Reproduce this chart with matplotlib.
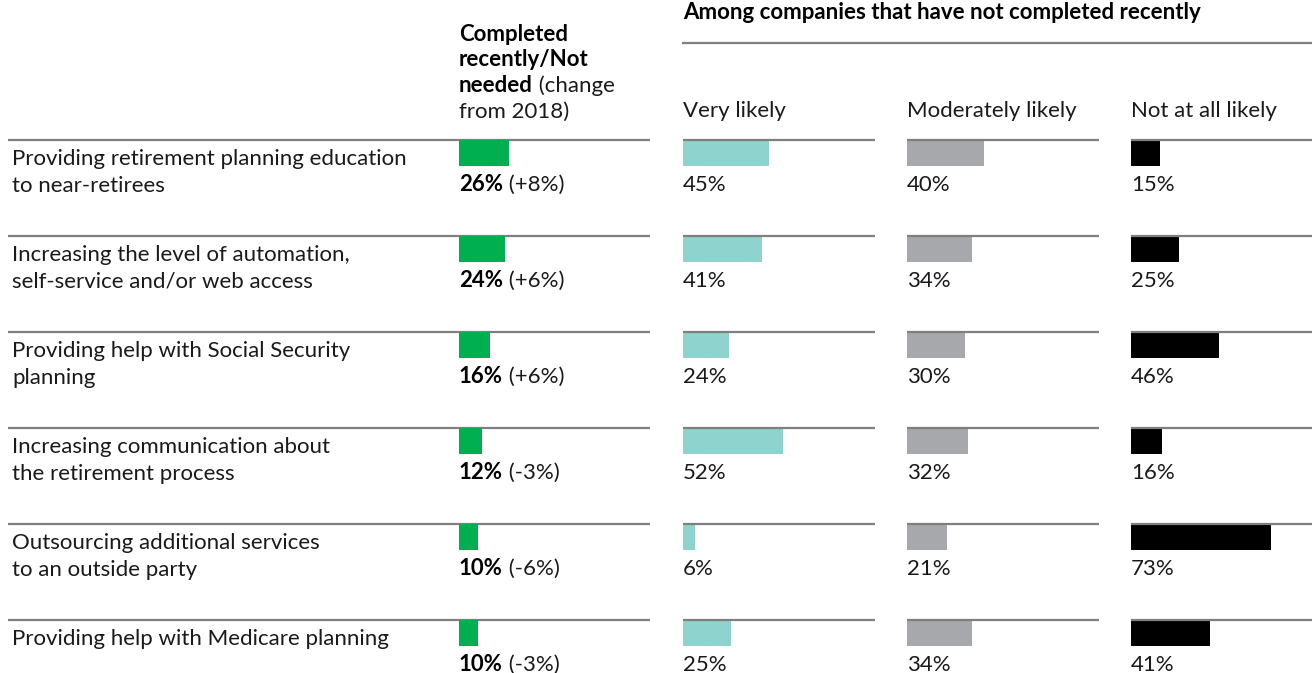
import matplotlib
matplotlib.use("Agg")
import matplotlib.pyplot as plt

# data
tasks = [
    "Providing retirement planning education\nto near-retirees",
    "Increasing the level of automation,\nself-service and/or web access",
    "Providing help with Social Security\nplanning",
    "Increasing communication about\nthe retirement process",
    "Outsourcing additional services\nto an outside party",
    "Providing help with Medicare planning",
]
completed = [26, 24, 16, 12, 10, 10]
change_2018 = ["+8%", "+6%", "+6%", "-3%", "-6%", "-3%"]
very_likely = [45, 41, 24, 52, 6, 25]
moderately_likely = [40, 34, 30, 32, 21, 34]
not_at_all_likely = [15, 25, 46, 16, 73, 41]

# layout (pixels)
W, H = 1312, 673
ROW_TOP = 140
ROW_STEP = 96
PX_PER_PCT = 1.92
BAR_H = 26 / ROW_STEP
VAL_BASE = 51  # px below the rule

GREEN = "#00b050"
TEAL = "#8ed3cd"
GREY = "#a7a8ab"
BLACK = "#000000"
RULE = "#7f7f7f"
TXT = "#1a1a1a"
FS = 16

plt.rcParams["font.family"] = ["Lato", "DejaVu Sans"]

fig = plt.figure(figsize=(W / 100, H / 100), dpi=100)
rows = list(range(len(tasks)))
span = (H - ROW_TOP) / ROW_STEP


def col_axes(x0, x1, xmax_units):
    ax = fig.add_axes([x0 / W, 0, (x1 - x0) / W, (H - ROW_TOP) / H])
    ax.set_xlim(0, xmax_units)
    ax.set_ylim(span, 0)
    ax.axis("off")
    return ax


# left block: task labels + rules
lab = col_axes(0, 650, 650)
lab.hlines(rows, 8, 650, color=RULE, lw=1.6, clip_on=False)
for r, t in zip(rows, tasks):
    for k, line in enumerate(t.split("\n")):
        lab.text(12, r + (25 + 27 * k) / ROW_STEP, line, fontsize=FS,
                 color=TXT, va="baseline", ha="left")

# completed column
gax = col_axes(459, 651, 100)
gax.barh([r + BAR_H / 2 for r in rows], completed, height=BAR_H, color=GREEN)
for r, v, c in zip(rows, completed, change_2018):
    t = gax.text(0, r + VAL_BASE / ROW_STEP, f"{v}%", fontsize=FS,
                 fontweight="bold", color=BLACK, va="baseline", ha="left")
    gax.annotate(f" ({c})", xy=(1, 0), xycoords=t, fontsize=FS, color=TXT,
                 va="bottom", ha="left")

# likelihood columns
cols = [
    (683, 875, very_likely, TEAL, "Very likely"),
    (907, 1099, moderately_likely, GREY, "Moderately likely"),
    (1131, 1312, not_at_all_likely, BLACK, "Not at all likely"),
]
for x0, x1, vals, colr, name in cols:
    ax = col_axes(x0, x1, (x1 - x0) / PX_PER_PCT)
    ax.hlines(rows, 0, (x1 - x0) / PX_PER_PCT, color=RULE, lw=1.6, clip_on=False)
    ax.barh([r + BAR_H / 2 for r in rows], vals, height=BAR_H, color=colr)
    for r, v in zip(rows, vals):
        ax.text(0, r + VAL_BASE / ROW_STEP, f"{v}%", fontsize=FS, color=TXT,
                va="baseline", ha="left")
    fig.text(x0 / W, 1 - 117 / H, name, fontsize=FS, color=TXT,
             va="baseline", ha="left")

# headers
fig.text(683 / W, 1 - 19 / H, "Among companies that have not completed recently",
         fontsize=FS, fontweight="bold", color=BLACK, va="baseline", ha="left")
fig.add_artist(plt.Line2D([683 / W, 1], [1 - 43 / H, 1 - 43 / H],
                          color=RULE, lw=1.6))

hdr = [("Completed", True), ("recently/Not", True), ("needed", True),
       ("from 2018)", False)]
for k, (txt, bold) in enumerate(hdr):
    t = fig.text(459 / W, 1 - (41 + 25.5 * k) / H, txt, fontsize=FS,
                 fontweight="bold" if bold else "normal",
                 color=BLACK if bold else TXT, va="baseline", ha="left")
    if txt == "needed":
        fig.add_artist(plt.Annotation(" (change", xy=(1, 0), xycoords=t,
                                      fontsize=FS, color=TXT, va="bottom",
                                      ha="left", annotation_clip=False))

fig.savefig("out.png", dpi=100)
